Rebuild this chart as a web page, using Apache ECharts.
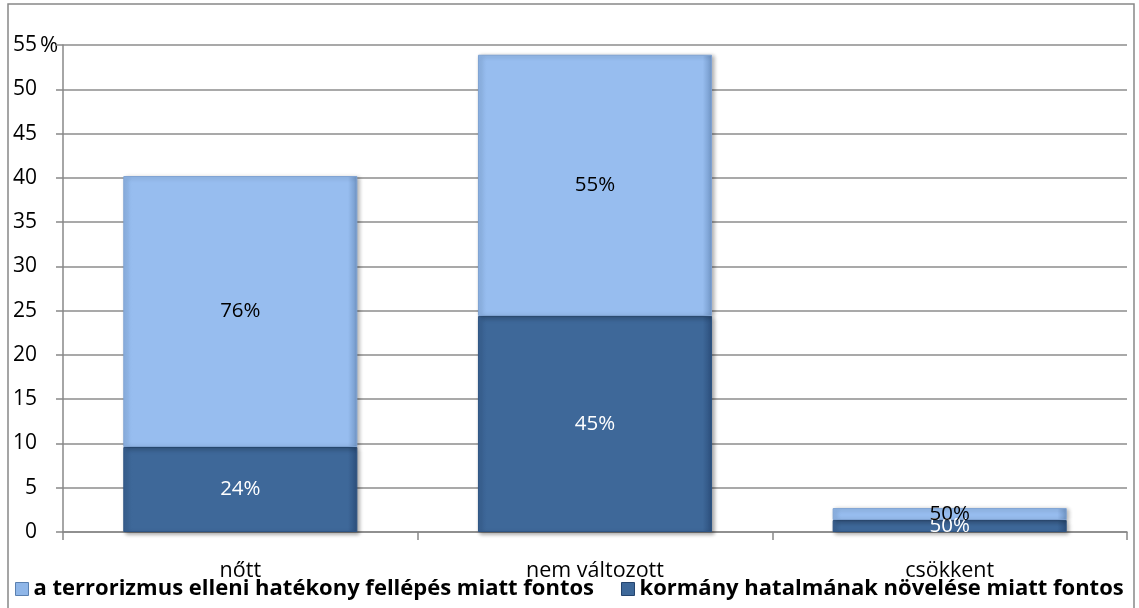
<!DOCTYPE html>
<html>
<head>
    <meta charset="UTF-8">
    <title>terrorizmus</title>
    <script src="https://cdn.jsdelivr.net/npm/echarts@6/dist/echarts.min.js"></script>
    <style>
        body { margin: 0; background: #fff; }
        #container { width: 1139px; height: 608px; }
    </style>
</head>
<body>
<div id="container"></div>
<script>
    // adatok
    var categories = ['nőtt', 'nem változott', 'csökkent'];
    var seriesNames = ['a terrorizmus elleni hatékony fellépés miatt fontos', 'kormány hatalmának növelése miatt fontos'];
    var kormanyValues = [9.6, 24.4, 1.35];
    var terrorValues = [30.6, 29.5, 1.35];
    var kormanyPct = ['24%', '45%', '50%'];
    var terrorPct = ['76%', '55%', '50%'];
    var yTicks = [0, 5, 10, 15, 20, 25, 30, 35, 40, 45, 50, 55];

    var font = '"Open Sans", "Noto Sans", sans-serif';
    var lightColor = new echarts.graphic.LinearGradient(0, 0, 1, 0, [
        {offset: 0, color: '#8fb6e8'}, {offset: 0.04, color: '#97bdef'},
        {offset: 0.96, color: '#97bdef'}, {offset: 1, color: '#7196c6'}
    ]);
    var darkColor = new echarts.graphic.LinearGradient(0, 0, 1, 0, [
        {offset: 0, color: '#3a6395'}, {offset: 0.04, color: '#3e6899'},
        {offset: 0.96, color: '#3e6899'}, {offset: 1, color: '#2c4f7c'}
    ]);

    var chart = echarts.init(document.getElementById('container'), null, {renderer: 'canvas'});
    var option = {
        animation: false,
        textStyle: {fontFamily: font},
        grid: {left: 63, right: 12, top: 45, bottom: 76, containLabel: false},
        legend: {
            left: 10, bottom: 3, itemGap: 27, itemWidth: 13, itemHeight: 13,
            icon: 'rect',
            textStyle: {fontSize: 22, fontWeight: 'bold', color: '#000', fontFamily: font},
            data: [
                {name: seriesNames[0], itemStyle: {color: '#8fb6e8', borderColor: '#5a80b0', borderWidth: 1}},
                {name: seriesNames[1], itemStyle: {color: '#3e6899', borderColor: '#24446e', borderWidth: 1}}
            ]
        },
        xAxis: {
            type: 'category',
            data: categories,
            axisLine: {lineStyle: {color: '#888', width: 1.5}},
            axisTick: {show: true, length: 8, lineStyle: {color: '#888', width: 1.5}},
            axisLabel: {fontSize: 21.5, color: '#000', margin: 28}
        },
        yAxis: {
            type: 'value',
            min: yTicks[0], max: yTicks[yTicks.length - 1], interval: 5,
            axisLine: {show: true, lineStyle: {color: '#888', width: 1.5}},
            axisTick: {show: true, length: 7, lineStyle: {color: '#888', width: 1.5}},
            axisLabel: {fontSize: 21, color: '#000', margin: 26},
            splitLine: {lineStyle: {color: '#8c8c8c', width: 1.5}}
        },
        series: [
            {
                name: seriesNames[1],
                type: 'bar', stack: 'a', barWidth: '66%',
                data: kormanyValues,
                itemStyle: {color: darkColor, borderColor: '#2f5584', borderWidth: 1,
                    shadowColor: 'rgba(0,0,0,0.35)', shadowBlur: 4, shadowOffsetX: 2, shadowOffsetY: 2},
                label: {show: true, position: 'inside', color: '#fff', fontSize: 20.5,
                    formatter: function (p) { return kormanyPct[p.dataIndex]; }}
            },
            {
                name: seriesNames[0],
                type: 'bar', stack: 'a', barWidth: '66%',
                data: terrorValues,
                itemStyle: {color: lightColor, borderColor: '#7fa3d3', borderWidth: 1,
                    shadowColor: 'rgba(0,0,0,0.3)', shadowBlur: 4, shadowOffsetX: 2, shadowOffsetY: 1},
                label: {show: true, position: 'inside', color: '#000', fontSize: 20.5,
                    formatter: function (p) { return terrorPct[p.dataIndex]; }}
            }
        ],
        graphic: [
            {type: 'rect', shape: {x: 8, y: 4, width: 1126, height: 620}, style: {fill: 'none', stroke: '#888', lineWidth: 1.5}, silent: true},
            {type: 'text', left: 40, top: 35, style: {text: '%', fontSize: 22, fill: '#000', fontFamily: font}}
        ]
    };
    chart.setOption(option);
    window.onresize = chart.resize;
</script>
</body>
</html>
